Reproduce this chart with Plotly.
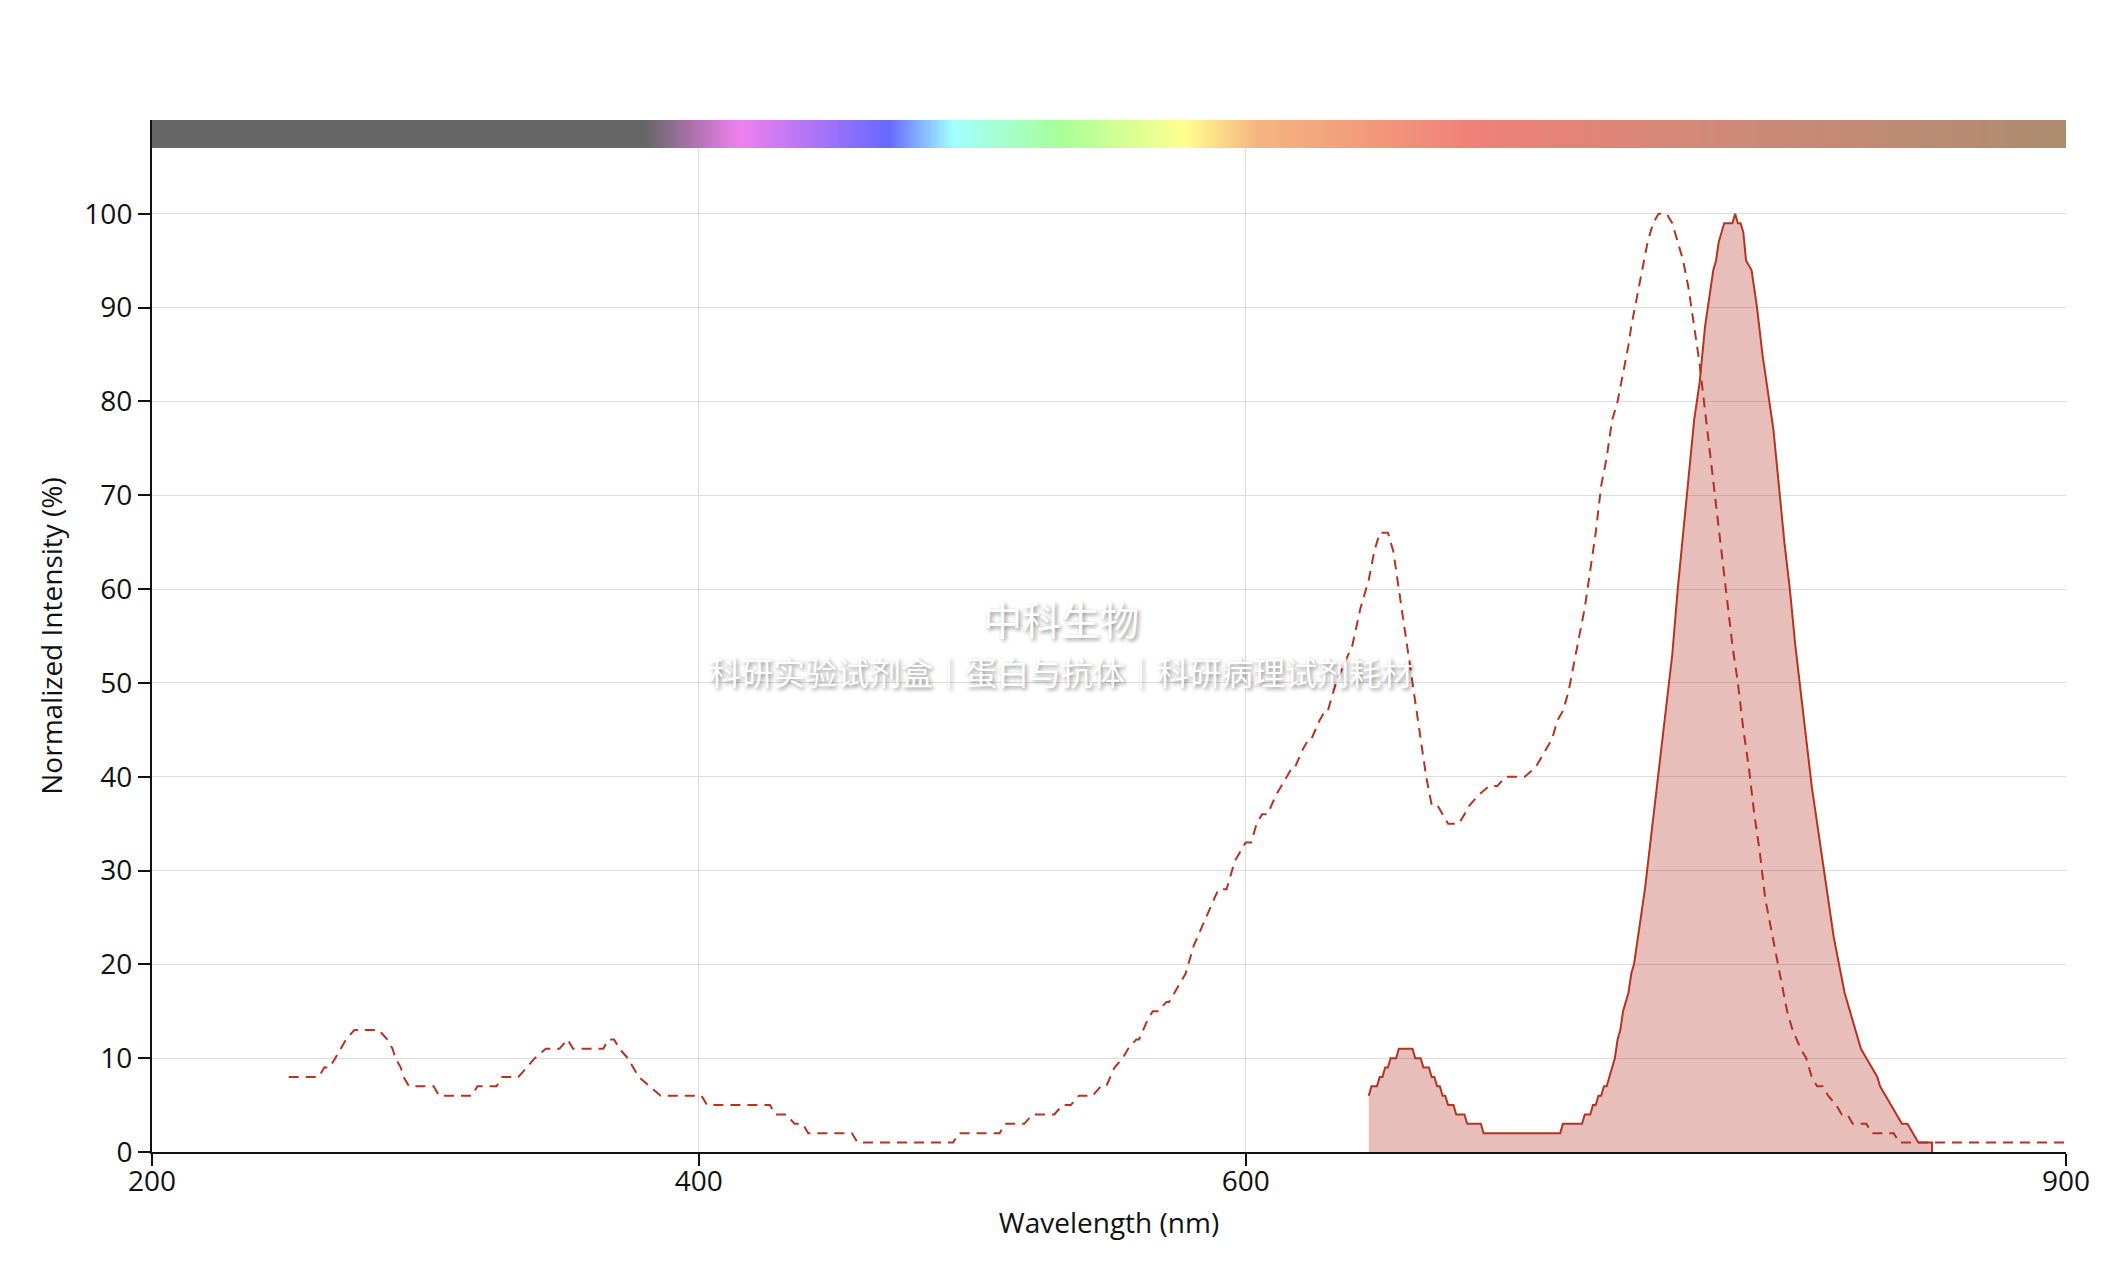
import plotly.graph_objects as go

# ---------------- data ----------------
ex_nm = [250, 261, 263, 265, 267, 269, 271, 274, 283, 286, 288, 289, 291, 292, 294, 303, 305, 317,
         319, 326, 328, 334, 337, 340, 344, 349, 352, 354, 365, 367, 369, 371, 374, 376, 378, 382,
         386, 401, 403, 426, 428, 432, 435, 438, 440, 456, 458, 493, 495, 510, 512, 519, 522, 530,
         533, 536, 539, 544, 547, 549, 552, 555, 557, 560, 561, 564, 566, 568, 571, 572, 576, 578,
         581, 584, 587, 590, 593, 595, 596, 598, 600, 602, 604, 606, 608, 611, 613, 615, 617, 618,
         621, 623, 624, 627, 629, 630, 633, 636, 639, 642, 645, 647, 649, 652, 654, 656, 658, 660,
         662, 664, 666, 668, 670, 672, 674, 678, 680, 682, 685, 689, 692, 695, 702, 706, 708, 710,
         712, 714, 716, 718, 720, 722, 724, 726, 728, 730, 732, 734, 736, 738, 740, 741, 743, 745,
         747, 749, 751, 754, 756, 758, 760, 762, 764, 766, 768, 770, 772, 774, 776, 778, 780, 782,
         784, 786, 788, 790, 792, 794, 796, 798, 800, 803, 805, 807, 809, 811, 813, 816, 818, 820,
         822, 827, 829, 837, 839, 900]
ex_val = [8, 8, 9, 9, 10, 11, 12, 13, 13, 12, 11, 10, 9, 8, 7, 7, 6, 6,
          7, 7, 8, 8, 9, 10, 11, 11, 12, 11, 11, 12, 12, 11, 10, 9, 8, 7,
          6, 6, 5, 5, 4, 4, 3, 3, 2, 2, 1, 1, 2, 2, 3, 3, 4, 4,
          5, 5, 6, 6, 7, 7, 9, 10, 11, 12, 12, 14, 15, 15, 16, 16, 18, 19,
          22, 24, 26, 28, 28, 30, 31, 32, 33, 33, 35, 36, 36, 38, 39, 40, 41, 41,
          43, 44, 44, 46, 47, 47, 50, 52, 54, 58, 61, 64, 66, 66, 64, 60, 56, 52,
          48, 44, 40, 37, 37, 36, 35, 35, 36, 37, 38, 39, 39, 40, 40, 41, 42, 43,
          44, 46, 47, 49, 52, 55, 58, 62, 66, 71, 74, 78, 80, 83, 86, 88, 91, 94,
          97, 99, 100, 100, 99, 97, 95, 92, 88, 84, 79, 74, 69, 64, 59, 54, 50, 45,
          41, 36, 32, 27, 24, 21, 18, 15, 13, 11, 10, 8, 7, 7, 6, 5, 4, 4,
          3, 3, 2, 2, 1, 1]

em_nm = [645, 646, 648, 649, 650, 651, 652, 653, 655, 656, 661, 662, 664, 665, 667, 668, 669, 670,
         671, 672, 673, 674, 676, 677, 680, 681, 686, 687, 715, 716, 723, 724, 726, 727, 728, 729,
         730, 731, 732, 733, 735, 736, 737, 738, 740, 741, 742, 744, 746, 748, 750, 752, 754, 756,
         758, 760, 762, 764, 766, 767, 768, 769, 770, 771, 772, 773, 774, 775, 778, 779, 780, 781,
         782, 783, 785, 787, 789, 791, 793, 795, 797, 799, 801, 803, 805, 807, 809, 811, 813, 815,
         817, 819, 821, 823, 825, 827, 829, 831, 832, 834, 836, 838, 840, 842, 844, 846, 851, 851]
em_val = [6, 7, 7, 8, 8, 9, 9, 10, 10, 11, 11, 10, 10, 9, 9, 8, 8, 7,
          7, 6, 6, 5, 5, 4, 4, 3, 3, 2, 2, 3, 3, 4, 4, 5, 5, 6,
          6, 7, 7, 8, 10, 12, 13, 15, 17, 19, 20, 24, 28, 33, 38, 43, 48, 53,
          60, 66, 72, 78, 82, 85, 88, 90, 92, 94, 95, 97, 98, 99, 99, 100, 99, 99,
          98, 95, 94, 90, 85, 81, 77, 71, 65, 60, 54, 49, 44, 39, 35, 31, 27, 23,
          20, 17, 15, 13, 11, 10, 9, 8, 7, 6, 5, 4, 3, 3, 2, 1, 1, 0]

x_ticks = [200, 400, 600, 900]
y_ticks = [0, 10, 20, 30, 40, 50, 60, 70, 80, 90, 100]

# spectrum colour band (wavelength -> colour stops)
band_nm = list(range(200, 901))
band_stops = [(200, "#666666"), (380, "#666666"), (415, "#f080f0"), (469, "#6868ff"),
              (493, "#a2ffff"), (532, "#a8ff98"), (577, "#ffff90"), (604, "#f5b580"),
              (683, "#f08078"), (784, "#cc8a78"), (900, "#ac8c70")]

LINE = "#b5341f"
FONT = "Open Sans"
FS = 28

fig = go.Figure()

fig.add_trace(go.Heatmap(
    x=band_nm, z=[band_nm], y0=108.5, dy=3,
    colorscale=[[(n - 200) / 700, c] for n, c in band_stops],
    zmin=200, zmax=900, showscale=False, hoverinfo="skip", zsmooth="best",
))

fig.add_trace(go.Scatter(
    x=ex_nm, y=ex_val, mode="lines", name="Excitation",
    line=dict(color=LINE, width=2, dash="10px,7px"),
))

fig.add_trace(go.Scatter(
    x=em_nm, y=em_val, mode="lines", name="Emission",
    line=dict(color=LINE, width=2), fill="tozeroy",
    fillcolor="rgba(180,40,25,0.30)",
))

fig.update_layout(
    width=2120, height=1288,
    margin=dict(l=152, r=54, t=120, b=136),
    paper_bgcolor="white", plot_bgcolor="white",
    showlegend=False,
    font=dict(family=FONT, size=FS, color="#111111"),
)

fig.update_xaxes(
    range=[200, 900], tickvals=x_ticks, ticks="outside", ticklen=12, tickwidth=2,
    tickcolor="#111111", showline=True, linecolor="#111111", linewidth=2,
    showgrid=True, gridcolor="#dddddd", gridwidth=1, zeroline=False,
    title=dict(text="Wavelength (nm)", font=dict(size=FS), standoff=16),
    tickfont=dict(size=FS), ticklabelstandoff=-9,
)
fig.update_yaxes(
    range=[0, 110], tickvals=y_ticks, ticks="outside", ticklen=12, tickwidth=2,
    tickcolor="#111111", showline=True, linecolor="#111111", linewidth=2,
    showgrid=True, gridcolor="#dddddd", gridwidth=1, zeroline=False,
    title=dict(text="Normalized Intensity (%)", font=dict(size=FS), standoff=14),
    tickfont=dict(size=FS),
)

shadow = "2px 2px 4px rgba(0,0,0,0.45)"
fig.add_annotation(
    text="中科生物", xref="paper", yref="paper", x=0.475, y=0.517,
    showarrow=False, xanchor="center", yanchor="middle",
    font=dict(family="Noto Sans CJK SC", size=39, color="white", shadow=shadow),
)
fig.add_annotation(
    text="科研实验试剂盒｜蛋白与抗体｜科研病理试剂耗材", xref="paper", yref="paper",
    x=0.475, y=0.466, showarrow=False, xanchor="center", yanchor="middle",
    font=dict(family="Noto Sans CJK SC", size=32, color="white", shadow=shadow),
)

fig.write_html(
    "out.html",
    config={"displayModeBar": False},
    post_script="document.body.style.margin='0';document.body.style.overflow='hidden';",
)
